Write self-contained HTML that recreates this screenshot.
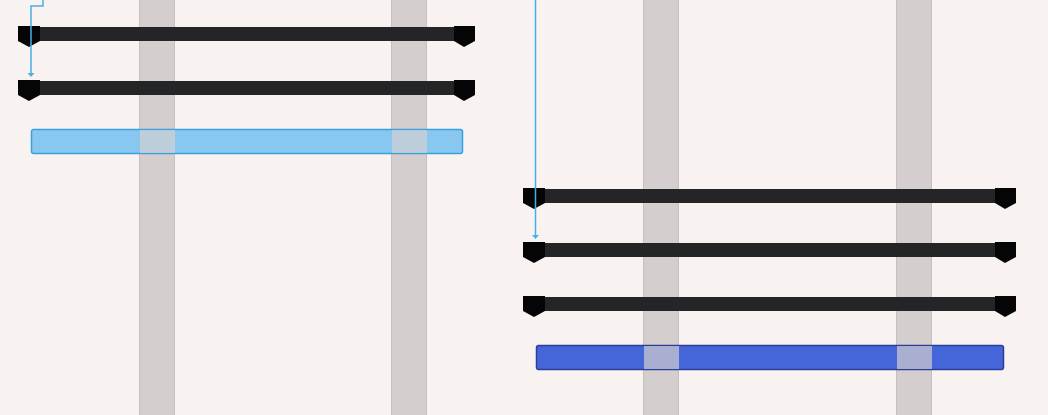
<!DOCTYPE html>
<html><head><style>html,body{margin:0;padding:0;background:#f8f3f1;}svg{display:block}</style></head>
<body>
<svg width="1048" height="415" viewBox="0 0 1048 415" xmlns="http://www.w3.org/2000/svg">
<rect width="1048" height="415" fill="#f8f3f1"/>
<g fill="#d4cece" stroke="#c6bfbf" stroke-width="1">
<rect x="139.5" y="-1" width="35" height="420"/>
<rect x="391.5" y="-1" width="35" height="420"/>
<rect x="643.5" y="-1" width="35" height="420"/>
<rect x="896.5" y="-1" width="35" height="420"/>
</g>
<defs>
<g id="sb">
<rect x="0" y="1" width="457" height="14" fill="#252528"/>
<path d="M0 0H22V15L11 21L0 15Z" fill="#050505"/>
<path d="M436 0H457V15L446 21L436 15Z" fill="#050505"/>
</g>
<g id="sb2">
<rect x="0" y="1" width="493" height="14" fill="#252528"/>
<path d="M0 0H22V15L11 21L0 15Z" fill="#050505"/>
<path d="M472 0H493V15L482 21L472 15Z" fill="#050505"/>
</g>
</defs>
<use href="#sb" x="18" y="26"/>
<use href="#sb" x="18" y="80"/>
<use href="#sb2" x="523" y="188"/>
<use href="#sb2" x="523" y="242"/>
<use href="#sb2" x="523" y="296"/>
<rect x="31.5" y="129.5" width="431" height="24" rx="2" fill="#88c8f0" stroke="#3aa0e0" stroke-width="1.5"/>
<rect x="536.5" y="345.5" width="467" height="24" rx="2" fill="#4466d8" stroke="#2a3f9a" stroke-width="1.5"/>
<g fill="#d4cece" opacity="0.7">
<rect x="140" y="130" width="35" height="23"/><rect x="392" y="130" width="35" height="23"/>
<rect x="644" y="346" width="35" height="23"/><rect x="897" y="346" width="35" height="23"/>
</g>
<g stroke="#4aaee6" stroke-width="1.5" fill="none">
<path d="M43 0V6H31V74"/>
<path d="M535.5 0V236"/>
</g>
<path d="M27.5 73H34.5L31 77Z" fill="#4aaee6"/>
<path d="M532 235H539L535.5 239Z" fill="#4aaee6"/>
</svg>
</body></html>
